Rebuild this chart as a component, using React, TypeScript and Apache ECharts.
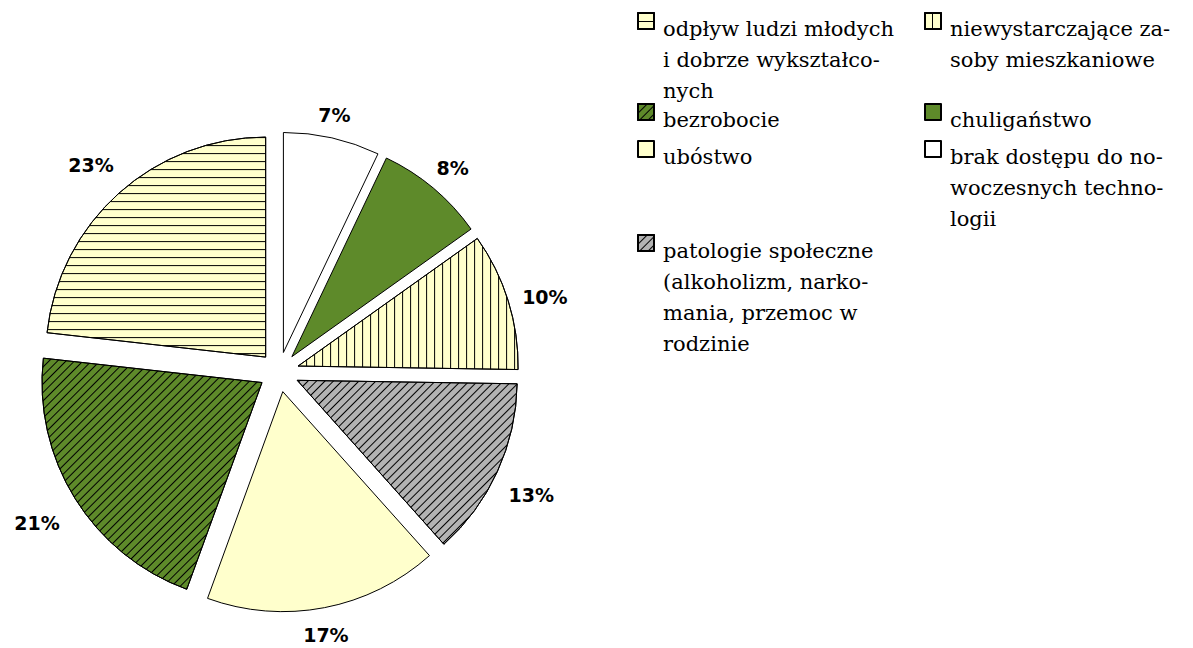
import React, { useEffect, useRef } from 'react';
import * as echarts from 'echarts';

// ---- data (clockwise from 12 o'clock) ----
const categories = [
  'brak dostępu do nowoczesnych technologii',
  'chuligaństwo',
  'niewystarczające zasoby mieszkaniowe',
  'patologie społeczne (alkoholizm, narkomania, przemoc w rodzinie',
  'ubóstwo',
  'bezrobocie',
  'odpływ ludzi młodych i dobrze wykształconych',
];
const values = [7, 8, 10, 13, 17, 21, 23];
const legendLabels = [
  'brak dostępu do no-\nwoczesnych techno-\nlogii',
  'chuligaństwo',
  'niewystarczające za-\nsoby mieszkaniowe',
  'patologie społeczne\n(alkoholizm, narko-\nmania, przemoc w\nrodzinie',
  'ubóstwo',
  'bezrobocie',
  'odpływ ludzi młodych\ni dobrze wykształco-\nnych',
];
// legend order (row-major, 2 columns) as indices into categories
const legendOrder = [6, 2, 5, 1, 4, 0, 3];

// ---- styles ----
const YELLOW = '#FFFFCC';
const GREEN = '#5E8A2A';
const GRAY = '#B3B3B3';
const WHITE = '#FFFFFF';

const stripe = (rotation: number, gap: number) => ({
  symbol: 'rect',
  symbolSize: 1,
  color: '#000',
  dashArrayX: [8, 0],
  dashArrayY: [1, gap],
  rotation,
});

const fills = [WHITE, GREEN, YELLOW, GRAY, YELLOW, GREEN, YELLOW];
const decals: any[] = [
  null,
  null,
  stripe(Math.PI / 2, 6.7),
  stripe(-Math.PI / 4, 4.8),
  null,
  stripe(-Math.PI / 4, 4.8),
  stripe(0, 6.7),
];

const LINE = 31;
const ICON = 16;
const TEXT_SHIFT = 8; // first text line sits a little below the icon centre
const colLefts = [637, 924];
const rowTops = [13, 104, 141, 235];

const PIE_CX = 279;
const PIE_CY = 372;
const PIE_R = 220;
const OFFSET = 20;
const LABEL_LEN = 31;

export default function App() {
  const ref = useRef<HTMLDivElement>(null);
  useEffect(() => {
    if (!ref.current) return;
    const chart = echarts.init(ref.current, null, { renderer: 'svg' });

    const legends = legendOrder.map((idx, k) => {
      const col = k % 2;
      const row = Math.floor(k / 2);
      const label = legendLabels[idx];
      const lines = label.split('\n').length;
      // spacer + blank lines above keep the first real line level with the icon
      const text = '{sp|}\n' + '\n'.repeat(lines - 1) + label;
      const blockH = (2 * lines - 1) * LINE + 2 * TEXT_SHIFT;
      return {
        data: [categories[idx]],
        left: colLefts[col],
        top: rowTops[row] + ICON / 2 - blockH / 2,
        padding: 0,
        itemWidth: ICON,
        itemHeight: ICON,
        icon: 'rect',
        selectedMode: false,
        formatter: () => text,
        textStyle: {
          fontFamily: 'DejaVu Serif, serif',
          fontSize: 21,
          color: '#000',
          lineHeight: LINE,
          padding: [0, 0, 0, 4],
          rich: {
            sp: { lineHeight: 2 * TEXT_SHIFT, height: 2 * TEXT_SHIFT, fontSize: 2 },
          },
        },
      };
    });

    chart.setOption({
      animation: false,
      backgroundColor: '#fff',
      legend: legends,
      series: [
        {
          type: 'pie',
          center: [PIE_CX, PIE_CY],
          radius: PIE_R,
          startAngle: 90,
          clockwise: true,
          selectedMode: 'multiple',
          selectedOffset: OFFSET,
          avoidLabelOverlap: false,
          emphasis: { disabled: true },
          itemStyle: { borderColor: '#000', borderWidth: 1 },
          label: {
            show: true,
            position: 'outside',
            formatter: (p: any) => p.value + '%',
            fontFamily: 'DejaVu Sans',
            fontWeight: 'bold',
            fontSize: 19,
            color: '#000',
            distanceToLabelLine: 0,
          },
          labelLine: { show: false, length: LABEL_LEN, length2: 0 },
          labelLayout: (params: any) => {
            const r = params.labelRect;
            const lx = r.x + r.width / 2 - PIE_CX;
            const ly = r.y + r.height / 2 - PIE_CY;
            const len = Math.hypot(lx, ly) || 1;
            const ux = lx / len;
            const uy = ly / len;
            // push side labels a little further out than top / bottom ones
            const extra =
              240 + 20 * Math.abs(ux) + (ux < 0 ? 7 : 0) - (PIE_R + LABEL_LEN);
            return {
              dx: ux * extra - (ux > 0 ? 3 * Math.abs(uy) : 0),
              dy: uy * extra + (ux > 0 ? 8 * ux : 2),
              align: 'center',
              verticalAlign: 'middle',
            };
          },
          data: categories.map((name, i) => ({
            name,
            value: values[i],
            selected: true,
            itemStyle: decals[i]
              ? { color: fills[i], decal: decals[i] }
              : { color: fills[i] },
          })),
        },
      ],
    });
    return () => chart.dispose();
  }, []);
  return (
    <div
      ref={ref}
      style={{ position: 'absolute', left: 0, top: 0, width: 1193, height: 648 }}
    />
  );
}
